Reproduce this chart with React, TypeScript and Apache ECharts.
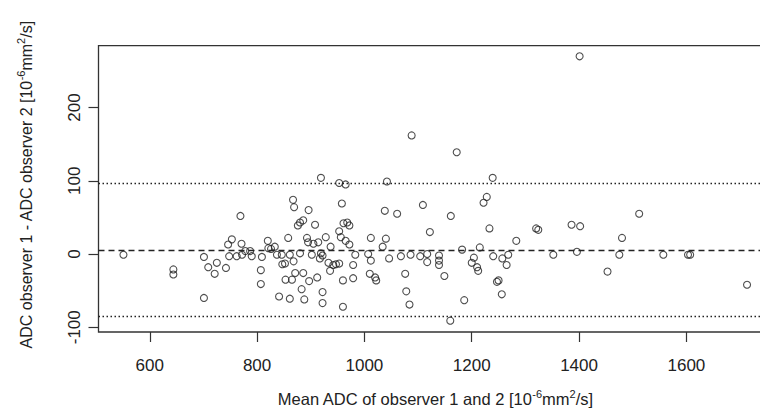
import React, { useEffect, useRef } from "react";
import * as echarts from "echarts";

// Mean ADC of observer 1 and 2 (x) and difference observer1 - observer2 (y)
const meanADC = [
  551, 644, 644, 701, 701, 709, 721, 725, 742, 748, 746, 753, 762, 769, 771, 772, 778, 790, 787,
  807, 807, 809, 820, 821, 826, 833, 837, 841, 846, 847, 852, 853, 858, 861, 861, 865, 867, 869,
  868, 871, 876, 880, 886, 880, 886, 883, 888, 897, 893, 896, 902, 908, 912, 895, 905, 914, 919,
  928, 937, 919, 922, 917, 933, 936, 942, 947, 953, 922, 922, 960, 960, 979, 979, 983, 958, 961,
  968, 972, 953, 956, 965, 972, 953, 965, 1007, 1012, 1012, 1010, 1020, 1022, 1034, 1040, 1038,
  1042, 1046, 1061, 1068, 1076, 1078, 1084, 1086, 1088, 1104, 1109, 1117, 1117, 1122, 1139, 1139,
  1139, 1149, 1161, 1160, 1172, 1182, 1186, 1200, 1204, 1210, 1212, 1215, 1222, 1228, 1233, 1239,
  1240, 1247, 1250, 1256, 1257, 1265, 1268, 1283, 1320, 1324, 1352, 1386, 1401, 1402, 1396, 1453,
  1475, 1480, 1512, 1557, 1603, 1607, 1713,
];
const diffADC = [
  -1, -21, -28, -4, -60, -18, -27, -12, -19, -3, 13, 20, -3, 52, 14, -1, 4, -3, 4,
  -22, -41, -4, 18, 8, 7, 10, -1, -58, -1, -14, -13, -35, 22, -1, -61, -35, 74, 64,
  -10, -26, 39, 43, 46, 1, -26, -48, -62, -37, 22, 60, -1, 40, -32, 16, 14, 16, 104,
  23, 10, 1, -2, -6, -12, -23, -15, -14, -13, -52, -67, -72, -36, -15, -33, -1, 69, 42,
  43, 39, 31, 23, 18, 13, 97, 95, 0, 22, -9, -27, -32, -36, 10, 21, 59,
  99, -6, 55, -3, -27, -51, -69, -1, 162, -3, 67, 0, -11, 30, -2, -9,
  -15, -30, 52, -91, 139, 6, -63, -12, -5, -18, -23, 9, 70, 78, 35, 104,
  -3, -38, -36, -55, -6, -15, -1, 18, 35, 33, -1, 40, 270, 38, 3, -24,
  -1, 22, 55, -1, -1, -1, -42,
];

const xTicks = [600, 800, 1000, 1200, 1400, 1600];
const yTicks = [-100, 0, 100, 200];

const meanDiff = 5.4;
const upperLoA = 96;
const lowerLoA = -85.3;

export default function App() {
  const ref = useRef<HTMLDivElement>(null);

  useEffect(() => {
    if (!ref.current) return;
    const chart = echarts.init(ref.current, null, { renderer: "svg" });
    const font = "'Liberation Sans', Arial, sans-serif";
    const txt = "#222";
    const data = meanADC.map((x, i) => [x, diffADC[i]]);

    chart.setOption({
      animation: false,
      backgroundColor: "#fff",
      grid: {
        left: 98.5,
        top: 45.7,
        right: 18,
        bottom: 80.7,
        show: true,
        borderColor: "#333",
        borderWidth: 1.3,
        backgroundColor: "transparent",
      },
      xAxis: {
        type: "value",
        min: 504.5,
        max: 1759.5,
        axisLine: { show: false, onZero: false },
        splitLine: { show: false },
        axisTick: {
          show: true,
          inside: false,
          length: 10,
          customValues: xTicks,
          lineStyle: { color: "#333", width: 1.2 },
        },
        axisLabel: {
          customValues: xTicks,
          formatter: (v: number) => String(v),
          fontSize: 17,
          fontFamily: font,
          color: txt,
          margin: 25,
        },
        name: "Mean ADC of observer 1 and 2 [10{sup|-6}mm{sup|2}/s]",
        nameLocation: "middle",
        nameGap: 56,
        nameTextStyle: {
          fontSize: 16.5,
          fontFamily: font,
          color: txt,
          lineHeight: 22,
          rich: { sup: { fontSize: 11, fontFamily: font, color: txt, verticalAlign: "top" } },
        },
      },
      yAxis: {
        type: "value",
        min: -106.5,
        max: 284.5,
        axisLine: { show: false, onZero: false },
        splitLine: { show: false },
        axisTick: {
          show: true,
          inside: false,
          length: 10,
          customValues: yTicks,
          lineStyle: { color: "#333", width: 1.2 },
        },
        axisLabel: {
          customValues: yTicks,
          formatter: (v: number) => String(v),
          rotate: 90,
          fontSize: 17,
          fontFamily: font,
          color: txt,
          margin: 16,
        },
        name: "ADC observer 1 - ADC observer 2 [10{sup|-6}mm{sup|2}/s]",
        nameLocation: "middle",
        nameRotate: 90,
        nameGap: 61,
        nameTextStyle: {
          fontSize: 16,
          fontFamily: font,
          color: txt,
          lineHeight: 22,
          padding: [0, 0, 0, 8],
          rich: { sup: { fontSize: 11, fontFamily: font, color: txt, verticalAlign: "top" } },
        },
      },
      series: [
        {
          type: "scatter",
          data,
          symbol: "circle",
          symbolSize: 7,
          itemStyle: { color: "transparent", borderColor: "#222", borderWidth: 1.1 },
          markLine: {
            silent: true,
            symbol: "none",
            label: { show: false },
            lineStyle: { color: "#222", width: 1.3 },
            data: [
              { yAxis: meanDiff, lineStyle: { type: [6, 4], color: "#222", width: 1.3 } },
              { yAxis: upperLoA, lineStyle: { type: [1.5, 2.5], color: "#222", width: 1.4 } },
              { yAxis: lowerLoA, lineStyle: { type: [1.5, 2.5], color: "#222", width: 1.4 } },
            ],
          },
        },
      ],
    });

    return () => chart.dispose();
  }, []);

  return (
    <div
      style={{
        position: "fixed",
        left: 0,
        top: 0,
        width: 760,
        height: 415,
        overflow: "hidden",
        background: "#fff",
      }}
    >
      <div ref={ref} style={{ width: 790, height: 415 }} />
    </div>
  );
}
